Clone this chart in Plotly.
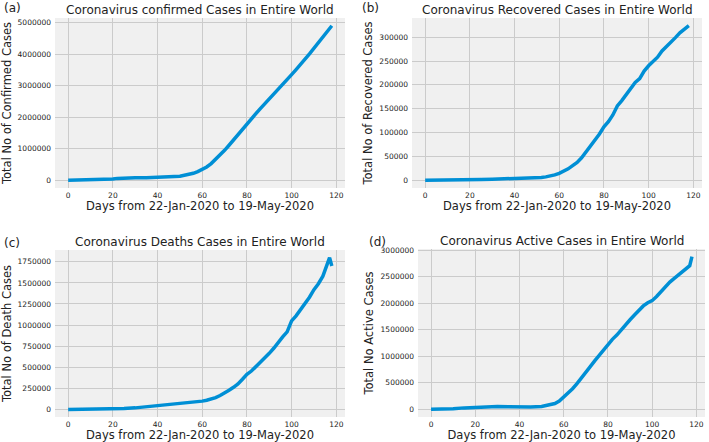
import plotly.graph_objects as go

# days since 22-Jan-2020
days = [0, 5, 10, 15, 20, 22, 25, 30, 35, 40, 45, 50,
        52, 54, 56, 58, 60, 62, 64, 66, 68, 70, 72, 74, 76, 78, 80,
        82, 84, 86, 88, 90, 92, 94, 96, 98, 100, 102, 104, 106, 108, 110,
        112, 114, 116, 117, 118]

confirmed = [555, 6000, 12000, 31000, 43000, 60000, 73000, 77000, 81000, 89000, 105000, 128000,
             157000, 183000, 220000, 276000, 337000, 422000, 530000, 663000, 784000, 950000,
             1110000, 1280000, 1450000, 1630000, 1810000, 1960000, 2110000, 2270000, 2420000,
             2570000, 2730000, 2890000, 3040000, 3190000, 3350000, 3510000, 3660000, 3840000,
             4010000, 4180000, 4350000, 4540000, 4720000, 4810000, 4900000]

recovered = [17, 82, 259, 565, 1118, 1370, 1670, 2250, 2770, 3100, 3560, 4720,
             5800, 7100, 8800, 11300, 14600, 19000, 24000, 30800, 37500, 47000,
             59000, 70000, 83000, 97000, 112000, 123000, 137000, 156000, 167000,
             180000, 193000, 205000, 213000, 229000, 240000, 248000, 258000, 271000,
             280000, 288000, 299000, 309000, 316000, 320000, 324000]

deaths = [28, 60, 240, 1100, 4700, 6700, 10800, 18200, 30400, 46000, 57000, 68000,
          72000, 77000, 84000, 88000, 98000, 108000, 122000, 140000, 165000, 193000,
          227000, 262000, 302000, 357000, 415000, 455000, 505000, 565000, 615000,
          665000, 725000, 800000, 860000, 920000, 1050000, 1110000, 1180000, 1250000,
          1330000, 1420000, 1490000, 1580000, 1720000, 1800000, 1700000]

active = [510, 2800, 11000, 28000, 38000, 53000, 56000, 55000, 50000, 43000, 45000, 55000,
          70000, 88000, 110000, 155000, 230000, 300000, 390000, 485000, 585000, 695000,
          805000, 915000, 1015000, 1115000, 1230000, 1320000, 1400000, 1500000, 1610000,
          1690000, 1780000, 1870000, 1950000, 2010000, 2050000, 2130000, 2220000, 2320000,
          2400000, 2470000, 2540000, 2620000, 2680000, 2710000, 2880000]

panels = [
    ("(a)", "Coronavirus confirmed Cases in Entire World", "Total No of Confirmed Cases", confirmed, 1000000),
    ("(b)", "Coronavirus Recovered Cases in Entire World", "Total No of Recovered Cases", recovered, 50000),
    ("(c)", "Coronavirus Deaths Cases in Entire World", "Total No of Death Cases", deaths, 250000),
    ("(d)", "Coronavirus Active Cases in Entire World", "Total No Active Cases", active, 500000),
]

W, H = 709, 442
# plot boxes in pixels: left, right, top, bottom
boxes = [(55, 345, 18, 188), (412, 702, 18, 188), (55, 345, 250, 417), (418, 705, 249, 417)]
tag_pos = [(2, 8), (360, 8), (2, 243), (367, 242)]

font = "DejaVu Sans"
fig = go.Figure()
annotations = []

for i, (tag, title, ylab, vals, dtick) in enumerate(panels):
    n = i + 1
    l, r, t, b = boxes[i]
    xa = "xaxis" if n == 1 else f"xaxis{n}"
    ya = "yaxis" if n == 1 else f"yaxis{n}"
    fig.add_trace(go.Scatter(x=days, y=vals, mode="lines",
                             line=dict(color="#008fd5", width=3.5),
                             xaxis=f"x{n}", yaxis=f"y{n}", showlegend=False))
    vmax = max(vals)
    pad = vmax * 0.05
    fig.layout[xa] = dict(domain=[l / W, r / W], anchor=f"y{n}", automargin=False,
                          range=[-5.9, 123.9], dtick=20, tick0=0,
                          showgrid=True, gridcolor="#cbcbcb", gridwidth=1,
                          zeroline=False, showline=False, ticks="", ticklabelstandoff=1,
                          tickfont=dict(size=7.5, color="#222", family=font),
                          title=dict(text="Days from 22-Jan-2020 to 19-May-2020",
                                     font=dict(size=11.5, color="#222", family=font),
                                     standoff=1))
    fig.layout[ya] = dict(domain=[1 - b / H, 1 - t / H], anchor=f"x{n}", automargin=False,
                          range=[-pad, vmax + pad], dtick=dtick, tick0=0,
                          showgrid=True, gridcolor="#cbcbcb", gridwidth=1,
                          zeroline=False, showline=False, ticks="",
                          tickformat="d", ticklabelstandoff=3,
                          tickfont=dict(size=7.5, color="#222", family=font),
                          title=dict(text=ylab,
                                     font=dict(size=11.5, color="#222", family=font),
                                     standoff=4))
    annotations.append(dict(text=title, x=(l + r) / 2 / W, y=1 - (t - 8) / H,
                            xref="paper", yref="paper", xanchor="center", yanchor="middle",
                            showarrow=False, font=dict(size=12, color="#222", family=font)))
    tx, ty = tag_pos[i]
    annotations.append(dict(text=tag, x=tx / W, y=1 - ty / H,
                            xref="paper", yref="paper", xanchor="left", yanchor="middle",
                            showarrow=False, font=dict(size=12, color="#222", family=font)))

fig.update_layout(width=W, height=H, margin=dict(l=0, r=0, t=0, b=0),
                  paper_bgcolor="white", plot_bgcolor="#f0f0f0",
                  annotations=annotations)

# drop the default page margin so the figure sits at the window corner
fig.write_html("out.html", config={"displayModeBar": False},
               post_script="document.body.style.margin='0';")
